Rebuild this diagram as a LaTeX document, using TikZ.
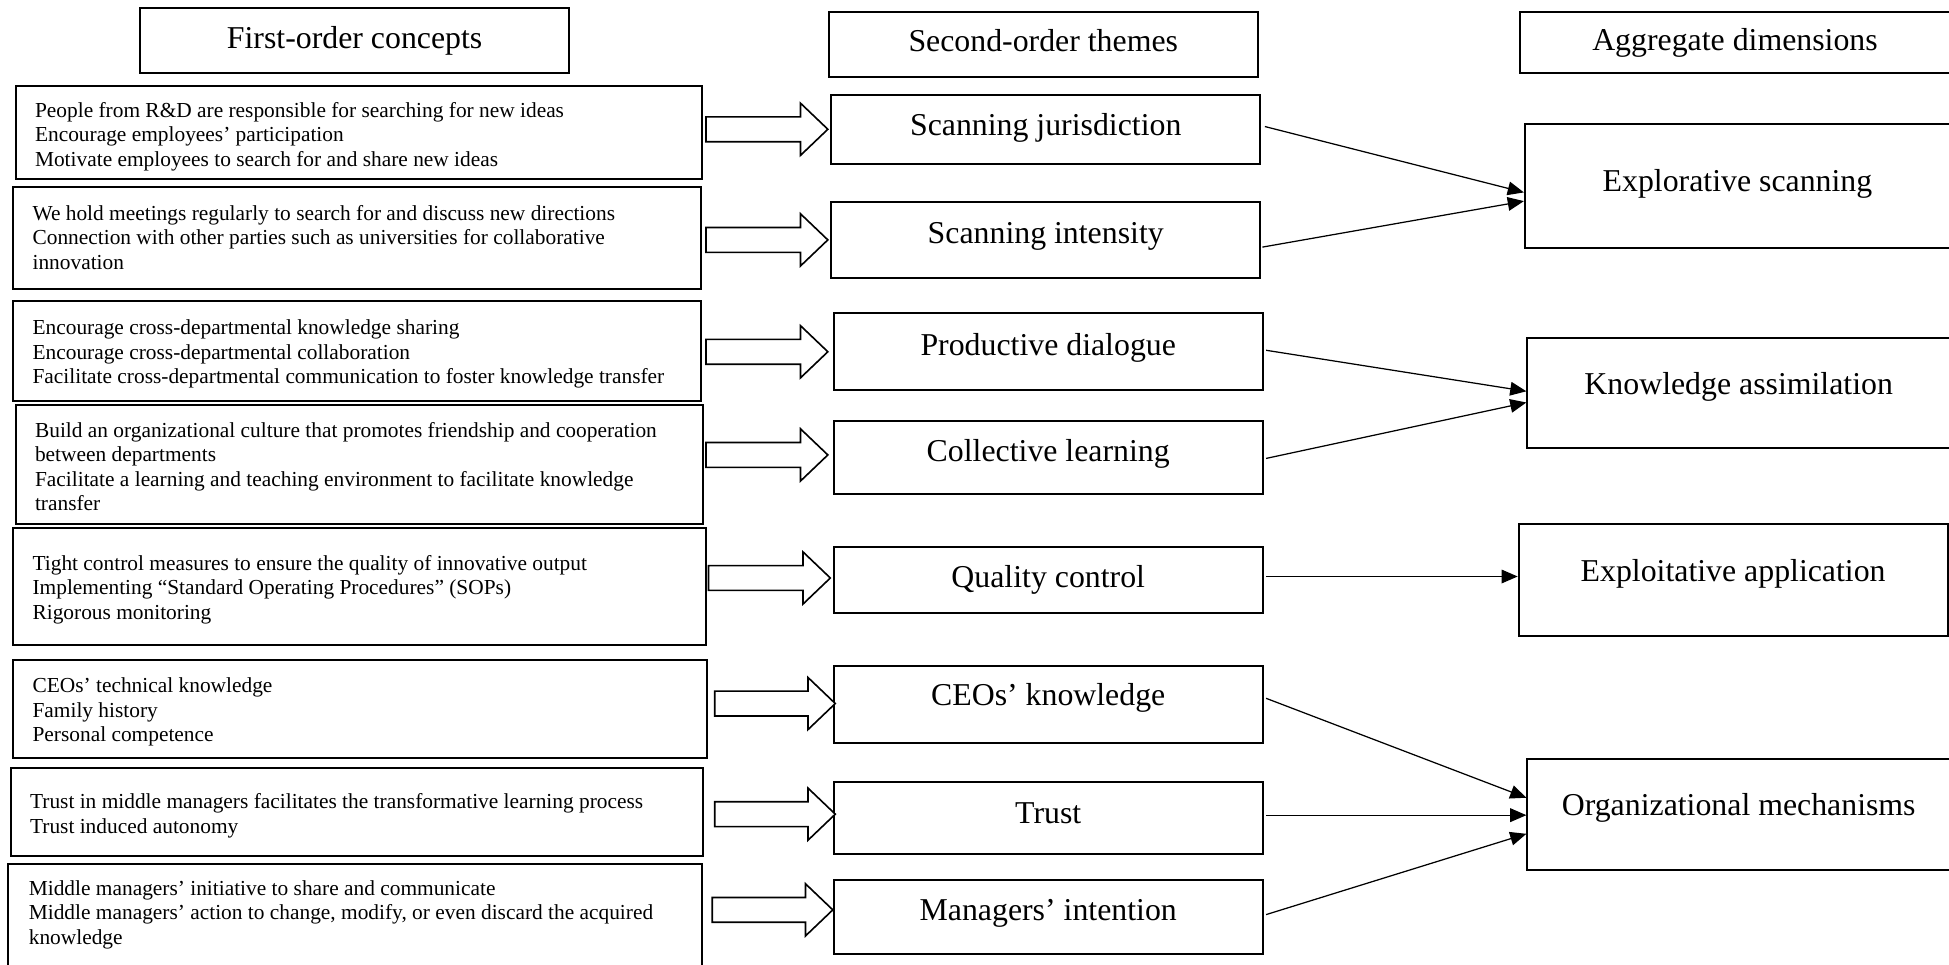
\documentclass[tikz,border=0pt]{standalone}
\usepackage{fontspec}
\setmainfont{Liberation Serif}
\usetikzlibrary{arrows.meta,calc}
\newcommand\blockarr[3]{%
  \draw[blk] (#1,#3-10) -- (#2-22,#3-10) -- (#2-22,#3-21) -- (#2,#3) -- (#2-22,#3+21) -- (#2-22,#3+10) -- (#1,#3+10) -- cycle;}
\begin{document}
\begin{tikzpicture}[x=1pt,y=-1pt,
  box/.style={draw,line width=1.6pt,rectangle,inner sep=0pt,anchor=north west},
  bigtext/.style={box,font=\fontsize{25.6}{30}\selectfont,text height=18pt,text depth=12pt},
  hdrtext/.style={box,font=\fontsize{25.6}{30}\selectfont,text height=18pt,text depth=6pt},
  aggtext/.style={box,font=\fontsize{25.6}{30}\selectfont,text height=18pt,text depth=16pt},
  ctext/.style={anchor=west,inner sep=0pt,align=left,font=\fontsize{17.2}{19.7}\selectfont},
  blk/.style={draw,line width=1.3pt,fill=white},
  link/.style={draw,line width=1pt,-{Triangle[length=13pt,width=11pt]}}]
\useasboundingbox (0,0) rectangle (1568,776);

% headers
\node[hdrtext,minimum width=345pt,minimum height=52pt] (h1) at (112,6) {First-order concepts};
\node[hdrtext,minimum width=345pt,minimum height=52pt] (h2) at (666,9) {Second-order themes};
\node[hdrtext,minimum width=346pt,minimum height=49pt] (h3) at (1222,9) {Aggregate dimensions};

% first-order concept boxes
\node[box,minimum width=552pt,minimum height=75pt] (c1) at (12,68) {};
\node[box,minimum width=553pt,minimum height=82pt] (c2) at (10,150) {};
\node[box,minimum width=553pt,minimum height=81pt] (c3) at (10,241) {};
\node[box,minimum width=553pt,minimum height=96pt] (c4) at (12,325) {};
\node[box,minimum width=557pt,minimum height=94pt] (c5) at (10,424) {};
\node[box,minimum width=558pt,minimum height=79pt] (c6) at (10,530) {};
\node[box,minimum width=557pt,minimum height=71pt] (c7) at (8,617) {};
\node[box,minimum width=558pt,minimum height=82pt] (c8) at (6,694) {};

% first-order concept texts
\node[ctext] (c1t) at ([xshift=16pt,yshift=-3.5pt]c1.west)
  {People from R\&D are responsible for searching for new ideas\\Encourage employees’ participation\\Motivate employees to search for and share new ideas};
\node[ctext] (c2t) at ([xshift=16pt,yshift=1pt]c2.west)
  {We hold meetings regularly to search for and discuss new directions\\Connection with other parties such as universities for collaborative\\innovation};
\node[ctext] (c3t) at ([xshift=16pt,yshift=-2.5pt]c3.west)
  {Encourage cross-departmental knowledge sharing\\Encourage cross-departmental collaboration\\Facilitate cross-departmental communication to foster knowledge transfer};
\node[ctext] (c4t) at ([xshift=16pt,yshift=-1.5pt]c4.west)
  {Build an organizational culture that promotes friendship and cooperation\\between departments\\Facilitate a learning and teaching environment to facilitate knowledge\\transfer};
\node[ctext] (c5t) at ([xshift=16pt,yshift=-2.5pt]c5.west)
  {Tight control measures to ensure the quality of innovative output\\Implementing “Standard Operating Procedures” (SOPs)\\Rigorous monitoring};
\node[ctext] (c6t) at ([xshift=16pt,yshift=-2.5pt]c6.west)
  {CEOs’ technical knowledge\\Family history\\Personal competence};
\node[ctext] (c7t) at ([xshift=16pt,yshift=-3pt]c7.west)
  {Trust in middle managers facilitates the transformative learning process\\Trust induced autonomy};
\node[ctext] (c8t) at ([xshift=17pt,yshift=0pt]c8.west)
  {Middle managers’ initiative to share and communicate\\Middle managers’ action to change, modify, or even discard the acquired\\knowledge};

% second-order themes
\node[bigtext,minimum width=345pt,minimum height=55pt,text depth=8pt] (t1) at (668,76) {Scanning jurisdiction};
\node[bigtext,minimum width=345pt,minimum height=61pt] (t2) at (668,162) {Scanning intensity};
\node[bigtext,minimum width=345pt,minimum height=62pt] (t3) at (670,251) {Productive dialogue};
\node[bigtext,minimum width=345pt,minimum height=59pt] (t4) at (670,338) {Collective learning};
\node[bigtext,minimum width=345pt,minimum height=53pt,text depth=6pt] (t5) at (670,439) {Quality control};
\node[bigtext,minimum width=345pt,minimum height=62pt,text depth=16pt] (t6) at (670,535) {CEOs’ knowledge};
\node[bigtext,minimum width=345pt,minimum height=58pt,text depth=8pt] (t7) at (670,628) {Trust};
\node[bigtext,minimum width=345pt,minimum height=60pt] (t8) at (670,707) {Managers’ intention};

% aggregate dimensions
\node[aggtext,minimum width=342pt,minimum height=100pt,text depth=10pt] (a1) at (1226,99) {Explorative scanning};
\node[aggtext,minimum width=340pt,minimum height=89pt] (a2) at (1228,271) {Knowledge assimilation};
\node[aggtext,minimum width=345pt,minimum height=90pt] (a3) at (1221,421) {Exploitative application};
\node[aggtext,minimum width=340pt,minimum height=89pt] (a4) at (1228,610) {Organizational mechanisms};

% block arrows
\blockarr{568}{666}{104}
\blockarr{568}{666}{193}
\blockarr{568}{666}{283}
\blockarr{568}{666}{366}
\blockarr{570}{668}{465}
\blockarr{575}{672}{566}
\blockarr{575}{672}{655}
\blockarr{573}{670}{732}

% connectors
\draw[link] ([xshift=3pt,yshift=2.5pt]t1.east) -- ([yshift=-5pt]a1.west);
\draw[link] ([xshift=1pt,yshift=-5.5pt]t2.east) -- ([yshift=-12pt]a1.west);
\draw[link] ([xshift=2pt,yshift=1pt]t3.east) -- ([yshift=1.5pt]a2.west);
\draw[link] ([xshift=2pt,yshift=-0.5pt]t4.east) -- ([yshift=-7.5pt]a2.west);
\draw[link] ([xshift=2pt,yshift=2.5pt]t5.east) -- ([yshift=3pt]a3.west);
\draw[link] ([xshift=2pt,yshift=5pt]t6.east) -- ([yshift=13.5pt]a4.west);
\draw[link] ([xshift=2pt,yshift=2pt]t7.east) -- ([yshift=-0.5pt]a4.west);
\draw[link] ([xshift=2pt,yshift=2pt]t8.east) -- ([yshift=-15.5pt]a4.west);
\end{tikzpicture}
\end{document}
